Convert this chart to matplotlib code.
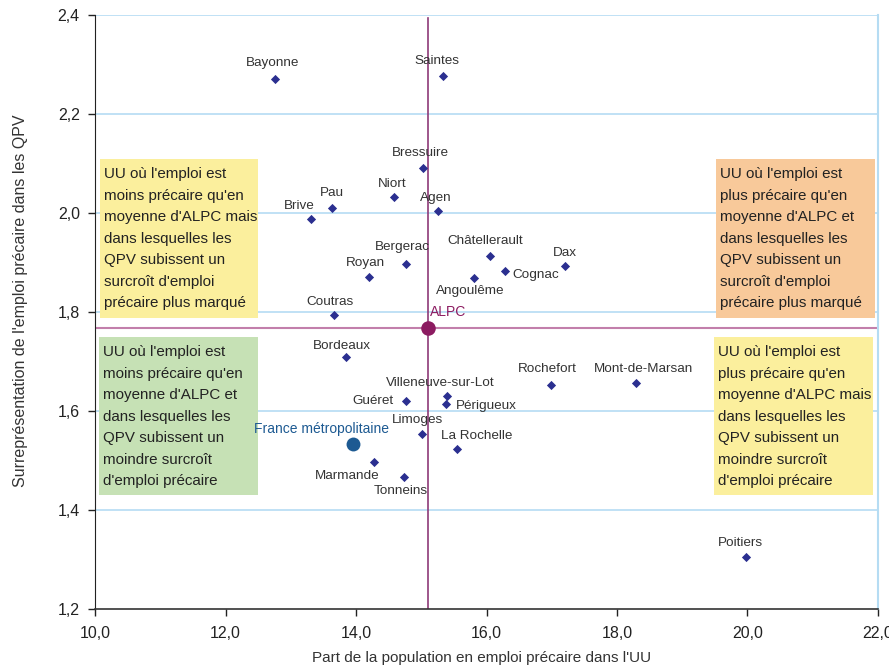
import matplotlib.pyplot as plt
from matplotlib.patches import Rectangle
from matplotlib.ticker import FuncFormatter, MultipleLocator

plt.rcParams['font.family'] = ['Liberation Sans', 'DejaVu Sans']

# unites urbaines : part d'emploi precaire (x), surrepresentation dans les QPV (y)
villes = ['Bayonne', 'Saintes', 'Bressuire', 'Niort', 'Agen', 'Pau', 'Brive',
          'Bergerac', 'Royan', 'Coutras', 'Châtellerault', 'Cognac', 'Angoulême',
          'Dax', 'Bordeaux', 'Villeneuve-sur-Lot', 'Périgueux', 'Guéret',
          'Limoges', 'Marmande', 'Tonneins', 'La Rochelle', 'Rochefort',
          'Mont-de-Marsan', 'Poitiers']
part_precaire = [12.76, 15.33, 15.03, 14.58, 15.25, 13.63, 13.31,
                 14.76, 14.20, 13.66, 16.05, 16.29, 15.81,
                 17.20, 13.85, 15.39, 15.38, 14.76,
                 15.01, 14.28, 14.74, 15.55, 16.99,
                 18.29, 19.97]
surrep_qpv = [2.271, 2.277, 2.091, 2.032, 2.004, 2.010, 1.988,
              1.897, 1.871, 1.793, 1.913, 1.882, 1.868,
              1.893, 1.709, 1.630, 1.615, 1.620,
              1.553, 1.496, 1.466, 1.523, 1.653,
              1.657, 1.306]

alpc = (15.1, 1.768)
france = (13.96, 1.533)

quadrants = [
    "UU où l'emploi est\nmoins précaire qu'en\nmoyenne d'ALPC mais\ndans lesquelles les\nQPV subissent un\nsurcroît d'emploi\nprécaire plus marqué",
    "UU où l'emploi est\nplus précaire qu'en\nmoyenne d'ALPC et\ndans lesquelles les\nQPV subissent un\nsurcroît d'emploi\nprécaire plus marqué",
    "UU où l'emploi est\nmoins précaire qu'en\nmoyenne d'ALPC et\ndans lesquelles les\nQPV subissent un\nmoindre surcroît\nd'emploi précaire",
    "UU où l'emploi est\nplus précaire qu'en\nmoyenne d'ALPC mais\ndans lesquelles les\nQPV subissent un\nmoindre surcroît\nd'emploi précaire",
]

# decalage des etiquettes (pixels) et alignement
place = {
    'Bayonne': (-3, 16, 'center'), 'Saintes': (-6, 15, 'center'),
    'Bressuire': (-3, 15, 'center'), 'Niort': (-2, 13, 'center'),
    'Agen': (-2, 13, 'center'), 'Pau': (0, 15, 'center'),
    'Brive': (-12, 13, 'center'), 'Bergerac': (-3, 17, 'center'),
    'Royan': (-4, 14, 'center'), 'Coutras': (-4, 13, 'center'),
    'Châtellerault': (-5, 15, 'center'), 'Cognac': (7, -4, 'left'),
    'Angoulême': (-4, -13, 'center'), 'Dax': (0, 13, 'center'),
    'Bordeaux': (-4, 11, 'center'), 'Villeneuve-sur-Lot': (-6, 13, 'center'),
    'Périgueux': (10, -2, 'left'), 'Guéret': (-12, 0, 'right'),
    'Limoges': (-4, 14, 'center'), 'Marmande': (-27, -14, 'center'),
    'Tonneins': (-4, -14, 'center'), 'La Rochelle': (20, 13, 'center'),
    'Rochefort': (-4, 16, 'center'), 'Mont-de-Marsan': (8, 14, 'center'),
    'Poitiers': (-5, 14, 'center'),
}

fig = plt.figure(figsize=(8.89, 6.69), dpi=100)
ax = fig.add_axes([0.1069, 0.0897, 0.8807, 0.8879])

ax.set_xlim(10, 22)
ax.set_ylim(1.2, 2.4)
ax.xaxis.set_major_locator(MultipleLocator(2))
ax.yaxis.set_major_locator(MultipleLocator(0.2))
ax.xaxis.set_major_formatter(FuncFormatter(lambda v, p: f"{v:.1f}".replace('.', ',')))
ax.yaxis.set_major_formatter(FuncFormatter(lambda v, p: f"{v:.1f}".replace('.', ',')))
ax.tick_params(axis='both', direction='out', length=5, width=1, labelsize=11.5,
               colors='#222222', pad=6)
ax.tick_params(axis='x', pad=7)

for y in [1.4, 1.6, 1.8, 2.0, 2.2, 2.4]:
    ax.axhline(y, color='#b5dcf3', lw=1.2, zorder=0)
ax.spines['top'].set_visible(False)
ax.spines['right'].set_color('#b5dcf3')
ax.spines['right'].set_linewidth(1.5)
ax.spines['left'].set_color('#222222')
ax.spines['bottom'].set_color('#333333')
ax.spines['bottom'].set_linewidth(1.2)

# moyennes ALPC
ax.axhline(alpc[1], color='#c27fab', lw=1.5, zorder=1)
ax.axvline(alpc[0], ymin=0, ymax=0.995, color='#8e3a78', lw=1.2, zorder=1)

ax.scatter(part_precaire, surrep_qpv, marker='D', s=22, color='#2b2f90',
           zorder=3, linewidths=0)
ax.scatter([alpc[0]], [alpc[1]], s=110, color='#8c1b61', zorder=4, linewidths=0)
ax.scatter([france[0]], [france[1]], s=100, color='#1d5a92', zorder=4, linewidths=0)

for nom, x, y in zip(villes, part_precaire, surrep_qpv):
    dx, dy, ha = place[nom]
    ax.annotate(nom, (x, y), xytext=(dx * 0.72, dy * 0.72), textcoords='offset points',
                ha=ha, va='center', fontsize=9.7, color='#333333', zorder=5)
ax.annotate('ALPC', alpc, xytext=(2 * 0.72, 16 * 0.72), textcoords='offset points',
            ha='left', va='center', fontsize=10, color='#8c1b61', zorder=5)
ax.annotate('France métropolitaine', france, xytext=(-32 * 0.72, 14.7 * 0.72),
            textcoords='offset points', ha='center', va='center', fontsize=10,
            color='#1d5a92', zorder=5)

# encadres des quadrants (fraction des axes)
boites = [
    (0.0064, 0.4899, 0.2018, 0.2677, '#fbef9d'),
    (0.7931, 0.4899, 0.2031, 0.2677, '#f8c99a'),
    (0.0051, 0.1919, 0.2031, 0.2660, '#c6e1b5'),
    (0.7905, 0.1919, 0.2031, 0.2660, '#fbef9d'),
]
for (x0, y0, w, h, c), txt in zip(boites, quadrants):
    ax.add_patch(Rectangle((x0, y0), w, h, transform=ax.transAxes, facecolor=c,
                           edgecolor='none', zorder=2))
    ax.text(x0 + 0.005, y0 + h - 0.014, txt, transform=ax.transAxes, ha='left',
            va='top', fontsize=10.9, color='#222222', linespacing=1.68, zorder=6)

fig.text(0.5422, 0.0164, "Part de la population en emploi précaire dans l'UU",
         ha='center', va='center', fontsize=11, color='#333333')
fig.text(0.0225, 0.5501, "Surreprésentation de l'emploi précaire dans les QPV",
         ha='center', va='center', rotation=90, fontsize=11.5, color='#333333')

fig.savefig('out.png', dpi=100)
